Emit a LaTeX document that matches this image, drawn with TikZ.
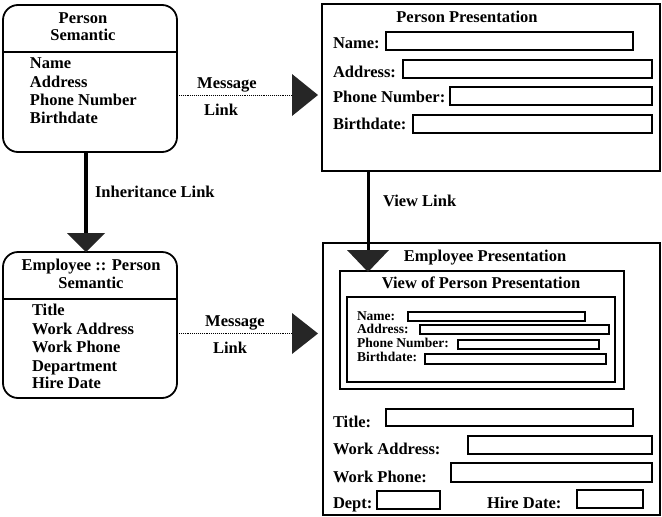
\documentclass[tikz,border=0pt]{standalone}
\usepackage{fontspec}
\setmainfont{Liberation Serif}
\usetikzlibrary{fit}

\begin{document}
\begin{tikzpicture}[x=1pt,y=-1pt,
  every node/.style={inner sep=0pt, outer sep=0pt},
  txt/.style={font=\fontsize{16.5}{18}\selectfont\bfseries},
  small/.style={font=\fontsize{13.5}{14}\selectfont\bfseries},
  sembox/.style={draw, line width=1.8pt, rounded corners=15pt, inner sep=0pt},
  presbox/.style={draw, line width=1.8pt, inner sep=0pt},
  fieldbox/.style={draw, line width=2.2pt},
  smallfield/.style={draw, line width=1.8pt},
  arrowtri/.style={fill=black!85},
  msglink/.style={densely dotted, line width=0.9pt},
  biglink/.style={line width=3.6pt},
  viewlink/.style={line width=3pt}
]
% page background
\fill[white] (0,0) rectangle (662,517);

% ---- Person Semantic ----
\node[sembox, fit={(3,5) (177,152)}] (ps) {};
\coordinate (psdiv) at (0,52);
\draw[line width=1.8pt] (ps.west |- psdiv) -- (ps.east |- psdiv);
\node[txt, anchor=base] (psT1) at (83,23.5) {Person};
\node[txt, anchor=base] (psT2) at (83,40.5) {Semantic};
\node[txt, anchor=base west] (psA1) at (30,68.5) {Name};
\node[txt, anchor=base west] (psA2) at (30,87) {Address};
\node[txt, anchor=base west] (psA3) at (30,105.5) {Phone Number};
\node[txt, anchor=base west] (psA4) at (30,123.5) {Birthdate};

% ---- Employee :: Person Semantic ----
\node[sembox, fit={(3,252) (177,398)}] (es) {};
\coordinate (esdiv) at (0,299);
\draw[line width=1.8pt] (es.west |- esdiv) -- (es.east |- esdiv);
\node[txt, anchor=base] (esT1) at (91,270.5) {Employee :: Person};
\node[txt, anchor=base] (esT2) at (91,288.5) {Semantic};
\node[txt, anchor=base west] (esA1) at (32,315.5) {Title};
\node[txt, anchor=base west] (esA2) at (32,334.5) {Work Address};
\node[txt, anchor=base west] (esA3) at (32,352.5) {Work Phone};
\node[txt, anchor=base west] (esA4) at (32,371.5) {Department};
\node[txt, anchor=base west] (esA5) at (32,388.5) {Hire Date};

% ---- Person Presentation ----
\node[presbox, fit={(322,4) (660,171)}] (pp) {};
\node[txt, anchor=base] (ppT) at (467,22.5) {Person Presentation};
\node[txt, anchor=base west] (ppL1) at (333,48.5) {Name:};
\node[txt, anchor=base west] (ppL2) at (333,77) {Address:};
\node[txt, anchor=base west] (ppL3) at (333,102.5) {Phone Number:};
\node[txt, anchor=base west] (ppL4) at (333,129) {Birthdate:};
\draw[fieldbox] (386,32) rectangle (633,50);
\draw[fieldbox] (403,60) rectangle (652,78);
\draw[fieldbox] (450,87) rectangle (652,105);
\draw[fieldbox] (413,115) rectangle (652,133);

% ---- Employee Presentation ----
\node[presbox, fit={(323,243) (660,515)}] (ep) {};
\node[txt, anchor=base] (epT) at (485,261.5) {Employee Presentation};
\node[presbox, fit={(340,271) (624,389)}] (vp) {};
\node[txt, anchor=base] (vpT) at (481,288.5) {View of Person Presentation};
\node[presbox, fit={(347,297) (615,382)}] (vpi) {};
\node[small, anchor=base west] (vpL1) at (357,320.5) {Name:};
\node[small, anchor=base west] (vpL2) at (357,333.5) {Address:};
\node[small, anchor=base west] (vpL3) at (357,347.5) {Phone Number:};
\node[small, anchor=base west] (vpL4) at (357,361.5) {Birthdate:};
\draw[smallfield] (408,312) rectangle (585,321);
\draw[smallfield] (420,325) rectangle (609,334);
\draw[smallfield] (458,340) rectangle (599,349);
\draw[smallfield] (425,354) rectangle (606,364);

\node[txt, anchor=base west] (epL1) at (333,427.5) {Title:};
\node[txt, anchor=base west] (epL2) at (333,454.5) {Work Address:};
\node[txt, anchor=base west] (epL3) at (333,482) {Work Phone:};
\node[txt, anchor=base west] (epL4) at (333,508.5) {Dept:};
\node[txt, anchor=base west] (epL5) at (487,508.5) {Hire Date:};
\draw[fieldbox] (386,409) rectangle (633,426);
\draw[fieldbox] (468,436) rectangle (652,454);
\draw[fieldbox] (451,463) rectangle (652,482);
\draw[fieldbox] (377,491) rectangle (440,509);
\draw[fieldbox] (577,490) rectangle (643,508);

% ---- arrow heads ----
\node[minimum width=26pt, minimum height=42pt] (t1) at (305,95) {};
\node[minimum width=26pt, minimum height=41pt] (t2) at (305,333.5) {};
\node[minimum width=38pt, minimum height=19pt] (t3) at (86,242.5) {};
\node[minimum width=42pt, minimum height=22pt] (t4) at (368,261) {};

% ---- message links ----
\draw[msglink] (ps.east |- t1.west) -- (t1.west);
\fill[arrowtri] (t1.north west) -- (t1.east) -- (t1.south west) -- cycle;
\node[txt, anchor=base] (m1a) at (227,88.5) {Message};
\node[txt, anchor=base] (m1b) at (221,115.5) {Link};

\draw[msglink] (es.east |- t2.west) -- (t2.west);
\fill[arrowtri] (t2.north west) -- (t2.east) -- (t2.south west) -- cycle;
\node[txt, anchor=base] (m2a) at (235,326.5) {Message};
\node[txt, anchor=base] (m2b) at (230,353.5) {Link};

% ---- inheritance link ----
\draw[biglink] (ps.south -| t3.north) -- (t3.north);
\fill[arrowtri] (t3.north west) -- (t3.north east) -- (t3.south) -- cycle;
\node[txt, anchor=base west] (inh) at (95,197.5) {Inheritance Link};

% ---- view link ----
\draw[viewlink] (pp.south -| t4.north) -- (t4.north);
\fill[arrowtri] (t4.north west) -- (t4.north east) -- (t4.south) -- cycle;
\node[txt, anchor=base west] (vl) at (383,206.5) {View Link};
\end{tikzpicture}
\end{document}
